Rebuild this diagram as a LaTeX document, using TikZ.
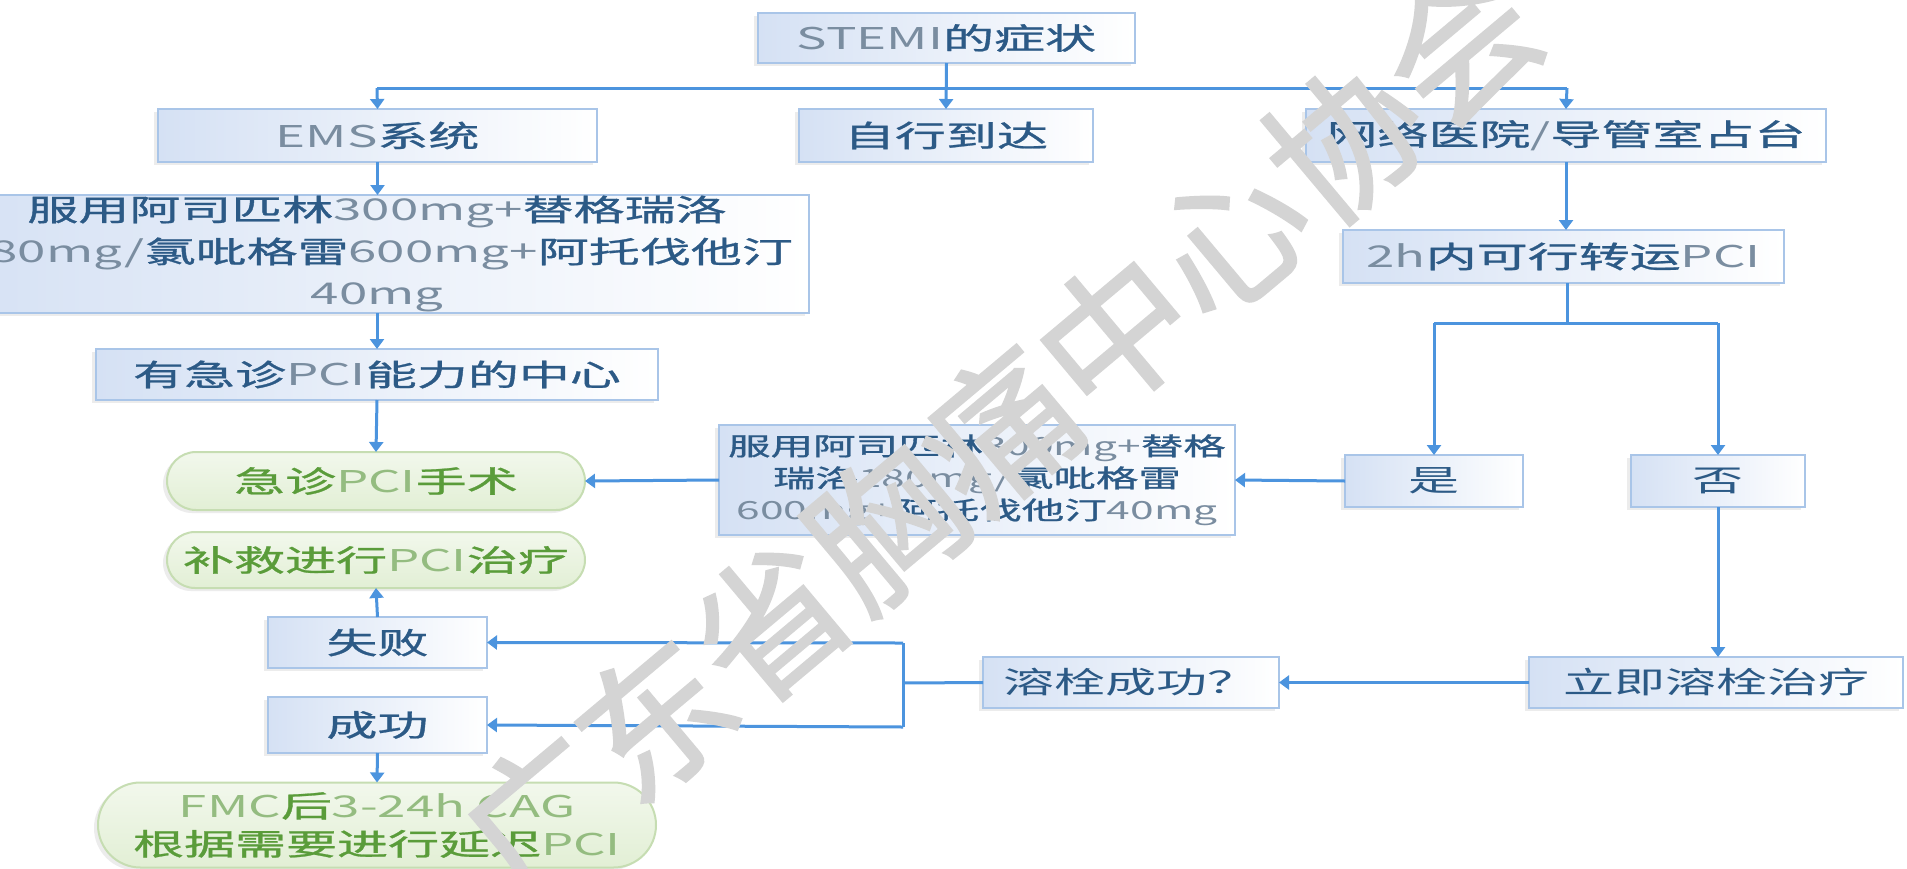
\documentclass[tikz,border=0pt]{standalone}
\usepackage{fontspec}
\usepackage{graphicx}
\setmainfont{Noto Sans CJK SC}
\newfontfamily\cjkb{Noto Sans CJK SC}[FakeBold=0.8]
\newfontfamily\wmfont{Noto Sans CJK SC}[FakeBold=1.5]
\usetikzlibrary{arrows.meta,shapes.misc,shadows}
\definecolor{cjk}{HTML}{2C5A86}
\definecolor{latc}{HTML}{7A8DA0}
\definecolor{edgec}{HTML}{A9C5E8}
\definecolor{fillc}{HTML}{D5E1F4}
\definecolor{linec}{HTML}{4C94DE}
\definecolor{gtext}{HTML}{5A9C3A}
\definecolor{glatc}{HTML}{94BC80}
\definecolor{gedge}{HTML}{C6DDB2}
\definecolor{gfill}{HTML}{E2EFD5}
\definecolor{wmc}{HTML}{D4D4D4}
\newcommand\sx[1]{\scalebox{1.7}[1]{#1}}
\newcommand\lat[1]{{\rmfamily\color{latc}#1}}
\newcommand\glat[1]{{\rmfamily\color{glatc}#1}}
\begin{document}
\begin{tikzpicture}[x=1pt,y=-1pt,
 base/.style={inner sep=0pt, outer sep=0pt, align=center},
 bbox/.style={base, rectangle, draw=edgec, line width=2pt, left color=fillc, right color=white, text=cjk, font=\cjkb\fontsize{30}{42}\selectfont, drop shadow={shadow xshift=-4pt, shadow yshift=-3pt, opacity=0.15}},
 plain/.style={font=\rmfamily\fontsize{30}{42}\selectfont},
 gbox/.style={base, rounded rectangle, draw=gedge, line width=2pt, top color=gfill!45!white, bottom color=gfill, text=gtext, font=\cjkb\fontsize{30}{38}\selectfont, drop shadow={shadow xshift=-4pt, shadow yshift=-3pt, opacity=0.15}},
 conn/.style={draw=linec, line width=3pt},
 arr/.style={conn, -{Triangle[width=14pt,length=10pt]}}
]
\fill[white] (0,0) rectangle (1907,868);
\useasboundingbox (0,0) rectangle (1907,868);

\node[bbox, minimum width=377pt, minimum height=50pt] (stemi) at (946.5,38) {\sx{\lat{STEMI}的症状}};
\node[bbox, minimum width=439pt, minimum height=53pt] (ems) at (377.5,135.5) {\sx{\lat{EMS}系统}};
\node[bbox, minimum width=294pt, minimum height=53pt] (self) at (946,135.5) {\sx{自行到达}};
\node[bbox, minimum width=520pt, minimum height=53pt] (net) at (1566,135.5) {\sx{网络医院\lat{/}导管室占台}};
\node[bbox, minimum width=864pt, minimum height=118pt] (drugA) at (377,254) {\sx{服用阿司匹林\lat{300mg+}替格瑞洛}\\\sx{\lat{180mg/}氯吡格雷\lat{600mg+}阿托伐他汀}\\\sx{\lat{40mg}}};
\node[bbox, minimum width=441pt, minimum height=53pt] (two) at (1563.5,256.5) {\sx{\lat{2h}内可行转运\lat{PCI}}};
\node[bbox, plain, minimum width=178pt, minimum height=52pt] (yes) at (1434,481) {\sx{是}};
\node[bbox, plain, minimum width=174pt, minimum height=52pt] (no) at (1718,481) {\sx{否}};
\node[bbox, minimum width=516pt, minimum height=110pt, font=\cjkb\fontsize{25}{32}\selectfont] (drugB) at (977,480) {\sx{服用阿司匹林\lat{300mg+}替格}\\\sx{瑞洛\lat{180mg/}氯吡格雷}\\\sx{\lat{600mg+}阿托伐他汀\lat{40mg}}};
\node[bbox, minimum width=562pt, minimum height=51pt] (center) at (377,374.5) {\sx{有急诊\lat{PCI}能力的中心}};
\node[gbox, minimum width=418pt, minimum height=58pt] (pci) at (376,481) {\sx{急诊\glat{PCI}手术}};
\node[gbox, minimum width=418pt, minimum height=56pt] (rescue) at (376,560) {\sx{补救进行\glat{PCI}治疗}};
\node[bbox, minimum width=219pt, minimum height=51pt] (fail) at (377.5,642.5) {\sx{失败}};
\node[bbox, minimum width=219pt, minimum height=56pt] (succ) at (377.5,725) {\sx{成功}};
\node[gbox, minimum width=558pt, minimum height=85pt] (fmc) at (377,825) {\sx{\glat{FMC}后\glat{3-24h CAG}}\\\sx{根据需要进行延迟\glat{PCI}}};
\node[bbox, plain, minimum width=296pt, minimum height=51pt] (q) at (1131,682.5) {\sx{溶栓成功？}};
\node[bbox, plain, minimum width=374pt, minimum height=51pt] (thromb) at (1716,682.5) {\sx{立即溶栓治疗}};

\coordinate (busL) at (377,88);
\coordinate (busR) at (1567,88);
\coordinate (brT) at (1567,323);
\coordinate (brL) at (1434,323);
\coordinate (brR) at (1718,323);
\coordinate (qL) at (903,683);
\coordinate (vT) at (903,643);
\coordinate (vB) at (903,727);

\draw[conn] (busL) -- (busR);
\draw[arr] (stemi.south) -- (self.north);
\draw[arr] (busL) -- (ems.north);
\draw[arr] (busR) -- (net.north);
\draw[arr] (ems.south) -- (drugA.north -| ems.south);
\draw[arr] (drugA.south -| center.north) -- (center.north);
\draw[arr] (center.south) -- (pci.north);
\draw[arr] (net.south) -- (two.north -| net.south);
\draw[conn] (two.south -| brT) -- (brT);
\draw[conn] (brL) -- (brR);
\draw[arr] (brL) -- (yes.north);
\draw[arr] (brR) -- (no.north);
\draw[arr] (yes.west) -- (drugB.east);
\draw[arr] (drugB.west) -- (pci.east);
\draw[arr] (no.south) -- (thromb.north -| no.south);
\draw[arr] (thromb.west) -- (q.east);
\draw[conn] (q.west) -- (qL);
\draw[conn] (vT) -- (vB);
\draw[arr] (vT) -- (fail.east);
\draw[arr] (vB) -- (succ.east);
\draw[arr] (fail.north) -- (rescue.south);
\draw[arr] (succ.south) -- (fmc.north);

\node[rotate=40, text=wmc, font=\wmfont\fontsize{150}{150}\selectfont] (wm) at (1000,430) {广东省胸痛中心协会};
\end{tikzpicture}
\end{document}
